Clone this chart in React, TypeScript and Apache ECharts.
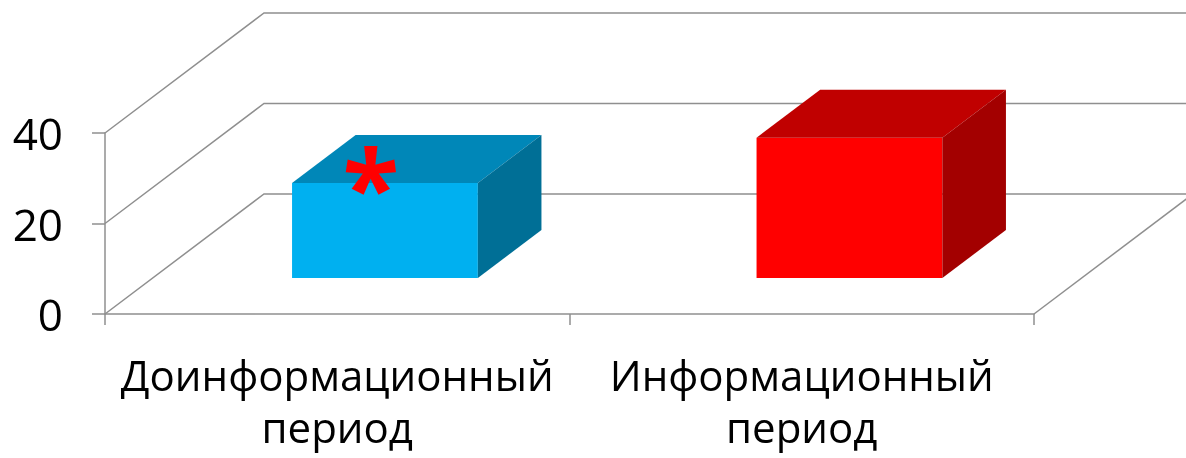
import React, { useEffect, useRef } from "react";
import * as echarts from "echarts";

// ---- data ----
const categories = ["Доинформационный\nпериод", "Информационный\nпериод"];
const values = [21, 31];
const yTicks = [0, 20, 40];
const marks = ["*", ""];

// ---- styles ----
const FRONT = ["#00B0F0", "#FF0000"];
const TOP = ["#0087B8", "#C00000"];
const SIDE = ["#006F96", "#A30000"];
const LINE = "#8F8F8F";
const FONT = "'Open Sans', 'Noto Sans', sans-serif";
const DX = 159;
const DY = -120;
const F1 = 0.3;
const F2 = 0.7;

export default function App() {
  const ref = useRef<HTMLDivElement>(null);
  useEffect(() => {
    const chart = echarts.init(ref.current!, null, { renderer: "svg" });
    const lineStyle = { color: LINE, width: 1.5 };
    chart.setOption({
      animation: false,
      grid: { left: 105, top: 133, width: 929, height: 181, containLabel: false, outerBoundsMode: "none" },
      xAxis: {
        type: "category",
        data: categories,
        axisLine: { show: true, lineStyle },
        axisTick: { show: true, length: 11, lineStyle },
        axisLabel: {
          interval: 0,
          hideOverlap: false,
          fontSize: 42,
          fontFamily: FONT,
          color: "#000",
          lineHeight: 52,
          margin: 34,
        },
        splitLine: { show: false },
      },
      yAxis: {
        type: "value",
        min: 0,
        max: 40,
        interval: 20,
        axisLine: { show: true, lineStyle },
        axisTick: { show: true, length: 13, lineStyle },
        axisLabel: { fontSize: 44, fontFamily: FONT, color: "#000", margin: 42 },
        splitLine: { show: false },
      },
      series: [
        {
          type: "custom",
          name: "frame",
          data: yTicks.map((v) => [0, v]),
          encode: { x: 0, y: 1 },
          clip: false,
          silent: true,
          z: 1,
          renderItem: (params: any, api: any) => {
            const cs = params.coordSys;
            const v = api.value(1);
            const y = api.coord([0, v])[1];
            const x0 = cs.x;
            const x1 = cs.x + cs.width;
            const st = { stroke: LINE, lineWidth: 1.5, fill: "none" };
            const children: any[] = [
              {
                type: "polyline",
                shape: { points: [[x0, y], [x0 + DX, y + DY], [x1 + DX, y + DY]] },
                style: st,
              },
            ];
            if (v === 0) {
              children.push({
                type: "line",
                shape: { x1: x1, y1: y, x2: x1 + DX, y2: y + DY },
                style: st,
              });
            }
            return { type: "group", children };
          },
        },
        {
          type: "custom",
          name: "bars",
          data: values.map((v, i) => [i, v]),
          encode: { x: 0, y: 1 },
          clip: false,
          z: 3,
          renderItem: (params: any, api: any) => {
            const i = api.value(0);
            const v = api.value(1);
            const top = api.coord([i, v]);
            const base = api.coord([i, 0]);
            const bw = api.size([1, 0])[0] * 0.4;
            const xl = top[0] - bw / 2 + F1 * DX;
            const xr = xl + bw;
            const yt = top[1] + F1 * DY;
            const yb = base[1] + F1 * DY;
            const ox = (F2 - F1) * DX;
            const oy = (F2 - F1) * DY;
            const children: any[] = [
              { type: "rect", shape: { x: xl, y: yt, width: bw, height: yb - yt }, style: { fill: FRONT[i] } },
              {
                type: "polygon",
                shape: { points: [[xl, yt], [xl + ox, yt + oy], [xr + ox, yt + oy], [xr, yt]] },
                style: { fill: TOP[i] },
              },
              {
                type: "polygon",
                shape: { points: [[xr, yt], [xr + ox, yt + oy], [xr + ox, yb + oy], [xr, yb]] },
                style: { fill: SIDE[i] },
              },
            ];
            if (marks[i]) {
              children.push({
                type: "text",
                x: top[0] + F1 * DX - 14,
                y: yt + 2,
                style: {
                  text: marks[i],
                  fill: "#FF0000",
                  fontSize: 104,
                  fontWeight: "bold",
                  fontFamily: FONT,
                  align: "center",
                  verticalAlign: "middle",
                },
              });
            }
            return { type: "group", children };
          },
        },
      ],
    });
    return () => chart.dispose();
  }, []);
  return <div ref={ref} style={{ position: "fixed", left: 0, top: 0, width: 1186, height: 458 }} />;
}
